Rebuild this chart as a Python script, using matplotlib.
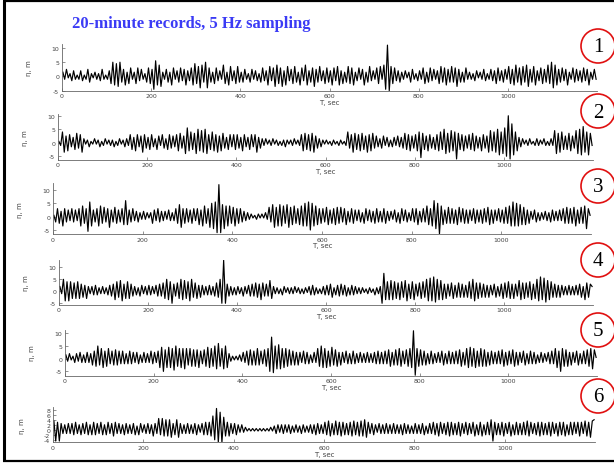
import matplotlib
matplotlib.use("Agg")
import matplotlib.pyplot as plt
from matplotlib.patches import Ellipse
import numpy as np

plt.rcParams['axes.unicode_minus'] = False

# ---------------- data (wave crest / trough extremes, every 4 s) ----------------
title_text = "20-minute records, 5 Hz sampling"
record_labels = ["1", "2", "3", "4", "5", "6"]
x_ticks = [0, 200, 400, 600, 800, 1000]
x_label = "T, sec"
y_label = "\u03b7, m"
yticks_std = [-5, 0, 5, 10]
yticks_p6 = [-4, -2, 0, 2, 4, 6, 8]
dt_extreme = 4.0

rec1 = [1.5,-1,2.5,-0.5,1,-1.5,2,-1,0.5,-1, 2,-1.5,0.5,-1,2.5,-2,1,-0.5,1.5,-1,
        1,-1.5,2.5,-1,0.5,-1,2,-2.5,5,-3, 4.5,-3.5,5,-2,2.5,-3,1.5,-2.5,3,-1,
        1.5,-2.5,3,-1.5,2.5,-1,1,-2,3,-2.5, 2.5,-4.5,5.5,-3,4,-3.5,1.5,-1,2.5,-2,
        1.5,-3,3,-1,2,-2,3,-1.5,2.5,-3, 2,-1.5,3,-3,4.5,-2.5,3.5,-4,4,-2,
        5,-4,3,-2,1.5,-2.5,3,-1.5,2,-1, 4,-2.5,1.5,-3,3.5,-1.5,2,-2.5,3.5,-2,
        1.5,-2,2.5,-1,1,-2,2.5,-1,2,-1.5, 1,-2,3,-1.5,2,-3,3.5,-1.5,3,-3.5,
        4,-2.5,3,-3.5,2,-3,3.5,-1.5,2.5,-2.5, 3.5,-2,1.5,-3,3,-1.5,4,-3,2,-2,
        3,-3.5,2.5,-2,3.5,-1.5,2,-2.5,3,-2, 2,-3,3,-1.5,3.5,-3,2,-2.5,1.5,-2,
        3.5,-2.5,3,-3,1.5,-1.5,3,-1,2.5,-3, 1.5,-2,3.5,-1.5,2,-1,3,-2.5,3.5,-1,
        4,-4.5,11,-5,3.5,-2.5,3,-1.5,2,-2, 1.5,-1,2,-0.5,1.5,-2,2.5,-1,1,-1.5,
        2,-1,3,-2.5,1.5,-2,3,-1.5,2.5,-1, 2,-2.5,3.5,-2,3,-3,2.5,-2,3.5,-2,
        3,-3.5,2.5,-2,1.5,-2,3,-1,1.5,-1, 1,-1.5,2,-0.5,1.5,-1,2.5,-1.5,1,-1,
        2.5,-1.5,2,-2.5,3,-1.5,2,-2,2.5,-1, 3.5,-2.5,2.5,-3,4,-2,3,-3,3.5,-2,
        4,-3.5,2.5,-2,3.5,-3,2,-1.5,3,-2.5, 2.5,-2,4,-2.5,5,-4,4,-3,2.5,-2,
        3,-1.5,2.5,-3,1.5,-1,3,-2,2.5,-1.5, 2,-2,3,-1.5,2.5,-3,1.5,-1,2.5,-1]

rec2 = [0.5,-1,4,-3.5,2.5,-3,3,-1.5,2,-2.5, 3.5,-2,3,-3.5,1.5,-0.5,1,-1.5,0.5,-0.5,
        1.5,-0.5,1,-1.5,0.5,-1,1.5,-0.5,1,-1, 1,-1.5,0.5,-1,1.5,-0.5,1,-1.5,1.5,-1,
        3,-2.5,2,-3,3,-1.5,2.5,-3.5,3,-2, 2,-2.5,3,-1.5,1.5,-2.5,2.5,-1,3,-2,
        1.5,-2.5,3,-2,2.5,-1.5,3,-3,3.5,-2, 2.5,-4,5.5,-3,4,-2.5,3.5,-4,5,-3,
        4.5,-3.5,5,-4,3,-2.5,4,-3,3,-3.5, 2.5,-3,3.5,-2,2,-2.5,3,-1.5,3,-2.5,
        3,-2,2,-3,3,-1.5,2,-2.5,3,-1.5, 3,-3.5,2,-2,1.5,-1,1.5,-0.5,1,-1,
        1.5,-0.5,1,-1,0.5,-1,1,-1.5,1,-0.5, 1,-1,1.5,-0.5,1,-1,3,-3,3.5,-2.5,
        3,-3,3.5,-3.5,2.5,-2,1.5,-1.5,1,-0.5, 1,-0.5,0.5,-1,1,-0.5,0.5,-1,1,-0.5,
        0.5,-1,4,-2,3,-3.5,3.5,-2.5,3,-3, 3.5,-2.5,2.5,-3.5,3,-3,3.5,-2,2.5,-1.5,
        1.5,-2,2.5,-1,2,-1.5,1,-1.5,2,-1, 2.5,-1.5,2,-2,3.5,-2.5,3,-3,2.5,-2,
        3,-3,4,-5.5,3.5,-2.5,2.5,-3,3,-2, 2,-2.5,3,-3,4,-2.5,5,-4,3.5,-3.5,
        4.5,-3,4,-6,3.5,-2.5,3,-3,2.5,-2, 3,-2.5,3.5,-3,2.5,-2,2,-3,3,-2,
        2.5,-3.5,4.5,-3,4,-3.5,5,-4.5,4,-4, 5.5,-5,10,-6,7,-4.5,4,-3,2,-1.5,
        1.5,-0.5,1,-1,1.5,-0.5,0.5,-1,1.5,-1, 1,-0.5,1.5,-1,0.5,-1,1.5,-1,4.5,-4,
        3.5,-3.5,4,-2.5,2.5,-2.5,3.5,-3,2.5,-2, 4.5,-4,5,-4.5,6,-3.5,4,-4.5,3.5,-1]

rec3 = [0.5,-2,3,-2.5,2,-3.5,3,-2,2.5,-1.5, 3,-2,2.5,-1.5,3,-3.5,4,-2.5,3,-5.5,
        5.5,-3.5,2.5,-2,3,-3.5,4,-2.5,3.5,-2, 3,-4,2.5,-2,3.5,-2.5,2.5,-2,3,-3,
        6,-3,2.5,-2,3,-1.5,2,-2,1.5,-1, 2,-1,1.5,-0.5,1.5,-2.5,2.5,-1.5,3,-2,
        2,-1.5,2,-1,2.5,-1.5,1.5,-1.5,3,-2.5, 4.5,-4,3,-2.5,3,-2,2.5,-2.5,3,-1.5,
        3,-3,2.5,-3.5,4,-2.5,3,-4,5,-4.5, 5.5,-6,12,-6,4.5,-4.5,4,-3.5,4,-2.5,
        3.5,-3.5,3,-2.5,3,-2,2,-1.5,1.5,-1, 1,-0.5,0.5,-1,1,-0.5,1,-0.5,1.5,-1,
        3.5,-2,4.5,-4,3.5,-3.5,4.5,-3.5,4,-2.5, 4.5,-4,3.5,-3,4,-2.5,3,-3,4,-3.5,
        5,-3.5,5.5,-5,5,-3.5,4,-3,3,-2.5, 3,-2,3.5,-3,2.5,-2.5,3,-3,3.5,-2.5,
        3.5,-2,3,-3,2,-2,3,-2.5,2.5,-1.5, 2.5,-2,1.5,-2.5,3,-1.5,2.5,-2,2,-2.5,
        3,-2,2,-2,3,-2.5,2,-1.5,2,-1, 2.5,-2,1.5,-2.5,3,-1.5,2.5,-2,1.5,-1.5,
        3,-2,3,-3,2,-2,3,-2,4,-3, 3,-3.5,6,-4.5,5,-6.5,4,-3,2.5,-2.5,
        3.5,-2.5,3,-2.5,2.5,-3,3.5,-2,3,-2.5, 2.5,-2.5,2.5,-1.5,3,-2.5,2.5,-2,2.5,-2.5,
        3,-2,3.5,-3,2.5,-2.5,2.5,-1.5,3,-2, 2.5,-2.5,3.5,-2.5,4,-3.5,5.5,-3.5,5,-3.5,
        4.5,-3,3.5,-3,2.5,-2.5,2,-1,2.5,-2, 1.5,-1.5,1.5,-1,2,-1.5,1.5,-2,2.5,-1.5,
        2,-1.5,2.5,-1.5,3,-2.5,3.5,-2.5,3,-2.5, 3.5,-3.5,2.5,-2.5,3.5,-2.5,4,-4.5,3,0.5]

rec4 = [2,-1,5,-4,4,-4,4,-3,3.5,-3, 4,-3,3,-2.5,2.5,-3,2,-1,2,-1.5,
        2.5,-1.5,1.5,-1,2,-1,1.5,-1.5,2.5,-2, 3,-3.5,4,-2.5,4.5,-4,3,-3,4,-3,
        3,-2,2,-1.5,1.5,-2,2.5,-1,2,-1.5, 2.5,-1.5,2,-1,2.5,-2,3,-2,3.5,-3,
        5,-3.5,4,-5,3,-2,3.5,-3,5,-3.5, 4.5,-3,4,-4,5,-2.5,3.5,-3,2.5,-2.5,
        2.5,-1.5,2,-1.5,2.5,-1.5,2,-2,3.5,-2.5, 5,-5,13,-5,3,-2,2,-1.5,1.5,-1.5,
        2,-1,1.5,-2,2,-1,2.5,-2,3,-2, 3.5,-2.5,3,-3.5,3.5,-2,3,-2,4.5,-3,
        2,-1,1.5,-1,1,-1.5,2,-0.5,1.5,-1, 1.5,-1,2,-0.5,1.5,-1,1,-1,1.5,-0.5,
        2,-1.5,2.5,-1.5,1.5,-1,1,-1,2,-1.5, 2.5,-1.5,3,-2.5,1.5,-1.5,2.5,-2,3,-1.5,
        2.5,-2,1.5,-1.5,2.5,-1.5,2,-1,1.5,-1, 1.5,-0.5,1,-1,1.5,-0.5,1,-1.5,1.5,-1,
        2,-5,7.5,-3.5,4,-3.5,4.5,-3.5,4,-3, 3.5,-3.5,4,-2.5,4.5,-4,3,-3,4,-3.5,
        3,-2,3.5,-3,4,-2.5,5,-4,5.5,-4, 6,-4.5,5,-3.5,4.5,-3.5,3,-3,3,-2,
        3.5,-3,2.5,-2.5,3.5,-2.5,3,-2.5,2.5,-2.5, 4,-3,5,-4,3.5,-3,3.5,-2.5,3,-2.5,
        2.5,-2.5,2.5,-1.5,3,-2.5,2,-2,3,-3, 3.5,-2.5,4,-3,3,-3,3,-2,4.5,-3.5,
        3.5,-3,3.5,-2.5,4,-3.5,3,-3,5,-4, 6,-3.5,5.5,-4.5,4.5,-3.5,4,-2.5,3,-2.5,
        2.5,-2.5,2.5,-1.5,2,-1.5,2.5,-1.5,2,-1.5, 2.5,-1.5,3,-2.5,2,-3.5,3.5,-2.5,3,2]

rec5 = [1.5,-1,2,-0.5,1,-1.5,2,-1,2.5,-1.5, 1.5,-1.5,2.5,-1.5,2,-2.5,3,-3,5,-2.5,
        4,-3.5,3,-3,4,-2,3,-2.5,3.5,-2.5, 3,-2,3,-2,2,-2,3,-2,2.5,-1.5,
        2.5,-2,1.5,-1.5,2.5,-1.5,2,-1.5,3,-2, 2.5,-1.5,3,-3.5,4.5,-5,3.5,-3.5,4.5,-3.5,
        4,-4.5,5,-3,4,-3.5,4,-4,4,-2.5, 4,-3,3.5,-3,3.5,-3.5,3,-2,3.5,-3,
        4.5,-3.5,4,-3,5,-4,6,-3,4,-4, 5,-3.5,2,-1,1,-0.5,1,-0.5,1.5,-1,
        2.5,-1.5,3,-2.5,3.5,-2.5,3,-2.5,4,-2.5, 3,-2,3.5,-3,4,-5,8.5,-5.5,5,-4,
        5.5,-4,4,-3.5,4,-3,3.5,-2.5,3,-2.5, 2.5,-2.5,2.5,-1.5,3,-2,2.5,-2,1.5,-1.5,
        2.5,-1.5,4,-3,5,-3.5,4,-3.5,3,-3, 4.5,-2.5,3.5,-3,2.5,-2.5,2.5,-1.5,3,-2,
        2,-2,3,-2,2,-1.5,2.5,-1.5,2,-1.5, 2.5,-1.5,2,-1.5,2.5,-2,3,-2,2.5,-2,
        3,-2,3.5,-3,2.5,-2.5,3.5,-2.5,4,-3, 3,-2,3.5,-3,4,-3.5,11,-6.5,4,-3,
        3.5,-2.5,3,-2.5,2,-2,3,-2,2,-1.5, 2.5,-1.5,3,-2.5,2,-2,3,-2,2.5,-2,
        3,-2,3.5,-3,2.5,-2.5,4,-3.5,4.5,-3, 4,-3.5,3,-3,4,-3,3.5,-3,2.5,-2.5,
        3,-2,2.5,-2,3,-2,3.5,-3,2.5,-2.5, 3,-2,3.5,-3,2.5,-2.5,2.5,-1.5,3,-2.5,
        2,-2,3,-2,2.5,-2,1.5,-1.5,2.5,-1.5, 2,-1,2.5,-2,3,-2,4,-3.5,3,-5,
        4,-3,3.5,-3,2.5,-2.5,2.5,-1.5,3,-2.5, 2,-2,3,-2,3.5,-3,4,-4,3.5,0.5]

rec6 = [3.5,-4.5,3,-4.5,2.5,-1.5,2,-1.5,2.5,-1.5, 2.5,-2,3,-1.5,2,-2,2.5,-1.5,3,-2,
        2,-2,3,-2,2.5,-1.5,3,-2,2,-2, 3,-1.5,2.5,-2.5,3,-1.5,2.5,-1.5,2,-2,
        2.5,-1.5,2,-1.5,2.5,-2,1.5,-2,2.5,-1, 2,-1.5,2.5,-1.5,2,-2.5,2.5,-1.5,4.5,-2,
        4.5,-2.5,4,-2.5,4,-3,2.5,-2,4,-3, 2.5,-1.5,2,-1.5,2.5,-1.5,2,-1.5,2.5,-2,
        2,-1,2.5,-2,3,-2,3,-2.5,5.5,-4, 8.5,-5,7,-5,5,-2.5,3,-2.5,2.5,-1.5,
        2.5,-2,2,-1,2,-1,1,-0.5,0.5,-0.5, 0.5,-0.5,0.5,-0.5,0.5,-0.5,0.5,-0.5,0.5,-0.5,
        1,-0.5,1.5,-1.5,2,-1,2,-1.5,2,-1, 2,-1.5,1.5,-1,2,-1,1.5,-1.5,2,-1,
        1.5,-1,2,-1.5,2,-2,2.5,-1.5,2,-1.5, 3,-2,3.5,-2.5,2.5,-2,3.5,-2,3,-2.5,
        3,-2,2.5,-2,3,-2.5,3.5,-2,3,-2.5, 3.5,-2.5,4,-3,3,-1.5,2.5,-2,2,-1,
        2.5,-1.5,2,-1.5,2.5,-1.5,2,-1.5,2.5,-1.5, 2,-1.5,2,-2,2.5,-1.5,2,-1.5,1.5,-1.5,
        2.5,-1.5,2,-1.5,2.5,-2,1.5,-1.5,2.5,-1.5, 3,-2,2.5,-2.5,3,-1.5,2.5,-2,3,-2.5,
        3,-2,2.5,-2,3,-2.5,2.5,-1.5,3,-2, 2.5,-1.5,3,-2.5,2,-2,3,-2.5,2,-2,
        3,-2,4,-4.5,3,-2,2.5,-2,3,-2.5, 2.5,-1.5,3,-2.5,2,-2,3,-2,2.5,-2,
        3,-2,3.5,-2.5,3,-1.5,2.5,-2,3,-2.5, 3,-2,2.5,-2,3,-2.5,3,-1.5,2.5,-2.5,
        3,-2,3,-2.5,2,-2,3,-2,3,-1.5, 3,-2.5,3,-1.5,3.5,-2.5,3,-3,3.5,4]

records = [rec1, rec2, rec3, rec4, rec5, rec6]

# ---------------- layout (pixels) ----------------
W, H = 614, 464
fig = plt.figure(figsize=(W / 100, H / 100), dpi=100)

# left, right, top, bottom (px), ylim
boxes = [
    (62, 597, 44.7, 91.7, (-5, 11.5)),
    (58, 593, 115.4, 160.5, (-6.2, 10.5)),
    (53, 591, 184.3, 235.0, (-6.5, 12.5)),
    (59, 593, 260.7, 305.7, (-5.6, 13.2)),
    (65, 597, 330.5, 376.7, (-6.7, 11.5)),
    (53, 595, 408.2, 443.3, (-5.0, 9.0)),
]

gray = '#444444'
for i, (rec, (l, r, t, b, yl)) in enumerate(zip(records, boxes)):
    ax = fig.add_axes([l / W, 1 - b / H, (r - l) / W, (b - t) / H])
    tt = dt_extreme / 2 + dt_extreme * np.arange(len(rec))
    ax.plot(tt, rec, color='black', lw=0.85)
    ax.set_xlim(0, 1200)
    ax.set_ylim(*yl)
    ax.set_xticks(x_ticks)
    ax.set_yticks(yticks_p6 if i == 5 else yticks_std)
    ax.spines['top'].set_visible(False)
    ax.spines['right'].set_visible(False)
    for s in ('left', 'bottom'):
        ax.spines[s].set_color('#666666')
        ax.spines[s].set_linewidth(0.6)
    ax.tick_params(direction='in', length=2.5, width=0.5, colors='#666666',
                   labelsize=4.5, labelcolor=gray, pad=2)
    ax.set_xlabel(x_label, fontsize=5, color=gray, labelpad=0.5)
    ax.set_ylabel(y_label, fontsize=5, color=gray, labelpad=14)
    ax.patch.set_alpha(0)

# ---------------- overlay: title, circles, frame ----------------
ov = fig.add_axes([0, 0, 1, 1], zorder=10)
ov.set_xlim(0, W)
ov.set_ylim(H, 0)
ov.axis('off')
ov.patch.set_alpha(0)

ov.text(72, 28, title_text, color='#3b3bf5', fontsize=12, fontweight='bold',
        family='Liberation Serif', ha='left', va='baseline')

circle_y = [47, 112, 187, 261, 331, 397]
for lab, cy in zip(record_labels, circle_y):
    ov.add_patch(Ellipse((598, cy), 34, 34, fill=False, edgecolor='#e01010', lw=1.2))
    ov.text(598, cy + 1, lab, fontsize=15, family='Liberation Serif',
            ha='center', va='center', color='black')

ov.plot([4, 4], [2, 462], color='black', lw=2.2, solid_capstyle='butt')
ov.plot([3, W], [2, 2], color='black', lw=1.6, solid_capstyle='butt')
ov.plot([3, W], [462, 462], color='black', lw=1.6, solid_capstyle='butt')

fig.savefig('out.png', dpi=100)
